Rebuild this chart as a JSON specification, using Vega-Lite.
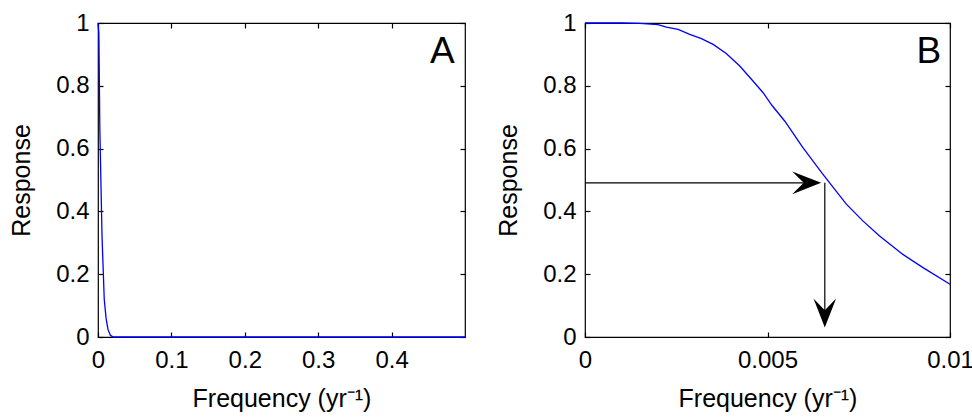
{
  "$schema": "https://vega.github.io/schema/vega-lite/v6.json",
  "padding": {"left": 9, "top": 10, "right": 0, "bottom": 2},
  "spacing": 27,
  "background": "white",
  "config": {
    "font": "Liberation Sans",
    "view": {"stroke": "black", "strokeWidth": 1.2},
    "axis": {"domain": false, "grid": false, "tickColor": "black", "tickSize": -5, "tickWidth": 1.2,
      "labelFont": "Liberation Sans", "labelFontSize": 24, "labelColor": "black",
      "titleFont": "Liberation Sans", "titleFontSize": 25, "titleFontWeight": "normal", "titleColor": "black",
      "labelFlush": false, "labelOverlap": false},
    "axisX": {"labelPadding": 16, "titlePadding": 14},
    "axisY": {"labelPadding": 14, "titlePadding": 21}
  },
  "datasets": {
    "curveA": [
      {"f": 0, "r": 1}, {"f": 0.0012, "r": 0.97}, {"f": 0.0025, "r": 0.66}, {"f": 0.0055, "r": 0.32},
      {"f": 0.0085, "r": 0.12}, {"f": 0.011, "r": 0.06}, {"f": 0.0135, "r": 0.025}, {"f": 0.017, "r": 0.005},
      {"f": 0.021, "r": 0}, {"f": 0.1, "r": 0}, {"f": 0.5, "r": 0}
    ],
    "curveB": [
      {"f": 0, "r": 1}, {"f": 0.0005, "r": 1}, {"f": 0.001, "r": 1}, {"f": 0.0015, "r": 0.999},
      {"f": 0.002, "r": 0.995}, {"f": 0.00223, "r": 0.987}, {"f": 0.00255, "r": 0.98}, {"f": 0.00287, "r": 0.964},
      {"f": 0.00319, "r": 0.95}, {"f": 0.00351, "r": 0.932}, {"f": 0.00387, "r": 0.903}, {"f": 0.00424, "r": 0.863},
      {"f": 0.00456, "r": 0.821}, {"f": 0.00488, "r": 0.778}, {"f": 0.00512, "r": 0.738}, {"f": 0.00547, "r": 0.688},
      {"f": 0.00597, "r": 0.603}, {"f": 0.00652, "r": 0.518}, {"f": 0.00666, "r": 0.497}, {"f": 0.00716, "r": 0.423},
      {"f": 0.00762, "r": 0.369}, {"f": 0.00807, "r": 0.322}, {"f": 0.00871, "r": 0.263}, {"f": 0.00926, "r": 0.221},
      {"f": 0.01, "r": 0.168}
    ],
    "labelA": [{"f": 0.469, "r": 0.874, "t": "A"}],
    "labelB": [{"f": 0.00942, "r": 0.874, "t": "B"}],
    "hArrow": [{"x0": 0, "x1": 0.00647, "xs": 0.0062, "y": 0.491}],
    "vArrow": [{"x": 0.00657, "y0": 0.491, "y1": 0.03, "ys": 0.07}]
  },
  "hconcat": [
    {
      "width": 367, "height": 314,
      "layer": [
        {"data": {"name": "curveA"}, "mark": {"type": "line", "color": "#0000ff", "strokeWidth": 1.3},
          "encoding": {
            "x": {"field": "f", "type": "quantitative", "scale": {"domain": [0, 0.5], "nice": false, "zero": false},
              "axis": {"orient": "bottom", "values": [0, 0.1, 0.2, 0.3, 0.4], "format": "~g", "title": "Frequency (yr⁻¹)"}},
            "y": {"field": "r", "type": "quantitative", "scale": {"domain": [0, 1], "nice": false},
              "axis": {"orient": "left", "values": [0, 0.2, 0.4, 0.6, 0.8, 1], "format": "~g", "title": "Response"}}
          }},
        {"data": {"name": "curveA"}, "mark": {"type": "line", "opacity": 0},
          "encoding": {
            "x": {"field": "f", "type": "quantitative", "axis": {"orient": "top", "values": [0, 0.1, 0.2, 0.3, 0.4], "labels": false, "title": null}},
            "y": {"field": "r", "type": "quantitative", "axis": {"orient": "right", "values": [0, 0.2, 0.4, 0.6, 0.8, 1], "labels": false, "title": null}}
          }},
        {"data": {"name": "labelA"}, "mark": {"type": "text", "fontSize": 37, "align": "center", "baseline": "alphabetic", "color": "black", "font": "Liberation Sans"},
          "encoding": {
            "x": {"field": "f", "type": "quantitative", "axis": null},
            "y": {"field": "r", "type": "quantitative", "axis": null},
            "text": {"field": "t"}
          }}
      ],
      "resolve": {"axis": {"x": "independent", "y": "independent"}}
    },
    {
      "width": 365, "height": 314,
      "layer": [
        {"data": {"name": "curveB"}, "mark": {"type": "line", "color": "#0000ff", "strokeWidth": 1.3},
          "encoding": {
            "x": {"field": "f", "type": "quantitative", "scale": {"domain": [0, 0.01], "nice": false, "zero": false},
              "axis": {"orient": "bottom", "values": [0, 0.005, 0.01], "format": "~g", "title": "Frequency (yr⁻¹)"}},
            "y": {"field": "r", "type": "quantitative", "scale": {"domain": [0, 1], "nice": false},
              "axis": {"orient": "left", "values": [0, 0.2, 0.4, 0.6, 0.8, 1], "format": "~g", "title": "Response"}}
          }},
        {"data": {"name": "curveB"}, "mark": {"type": "line", "opacity": 0},
          "encoding": {
            "x": {"field": "f", "type": "quantitative", "axis": {"orient": "top", "values": [0, 0.005, 0.01], "labels": false, "title": null}},
            "y": {"field": "r", "type": "quantitative", "axis": {"orient": "right", "values": [0, 0.2, 0.4, 0.6, 0.8, 1], "labels": false, "title": null}}
          }},
        {"data": {"name": "hArrow"}, "mark": {"type": "rule", "color": "black", "strokeWidth": 1.2},
          "encoding": {
            "x": {"field": "x0", "type": "quantitative", "axis": null},
            "x2": {"field": "xs"},
            "y": {"field": "y", "type": "quantitative", "axis": null}
          }},
        {"data": {"name": "hArrow"}, "mark": {"type": "point", "shape": "M0,0 L-2,-0.78 L-1.2,0 L-2,0.78 Z", "size": 841, "filled": true, "color": "black", "opacity": 1, "strokeWidth": 0},
          "encoding": {
            "x": {"field": "x1", "type": "quantitative", "axis": null},
            "y": {"field": "y", "type": "quantitative", "axis": null}
          }},
        {"data": {"name": "vArrow"}, "mark": {"type": "rule", "color": "black", "strokeWidth": 1.2},
          "encoding": {
            "x": {"field": "x", "type": "quantitative", "axis": null},
            "y": {"field": "y0", "type": "quantitative", "axis": null},
            "y2": {"field": "ys"}
          }},
        {"data": {"name": "vArrow"}, "mark": {"type": "point", "shape": "M0,0 L-0.78,-2 L0,-1.2 L0.78,-2 Z", "size": 841, "filled": true, "color": "black", "opacity": 1, "strokeWidth": 0},
          "encoding": {
            "x": {"field": "x", "type": "quantitative", "axis": null},
            "y": {"field": "y1", "type": "quantitative", "axis": null}
          }},
        {"data": {"name": "labelB"}, "mark": {"type": "text", "fontSize": 37, "align": "center", "baseline": "alphabetic", "color": "black", "font": "Liberation Sans"},
          "encoding": {
            "x": {"field": "f", "type": "quantitative", "axis": null},
            "y": {"field": "r", "type": "quantitative", "axis": null},
            "text": {"field": "t"}
          }}
      ],
      "resolve": {"axis": {"x": "independent", "y": "independent"}}
    }
  ]
}
